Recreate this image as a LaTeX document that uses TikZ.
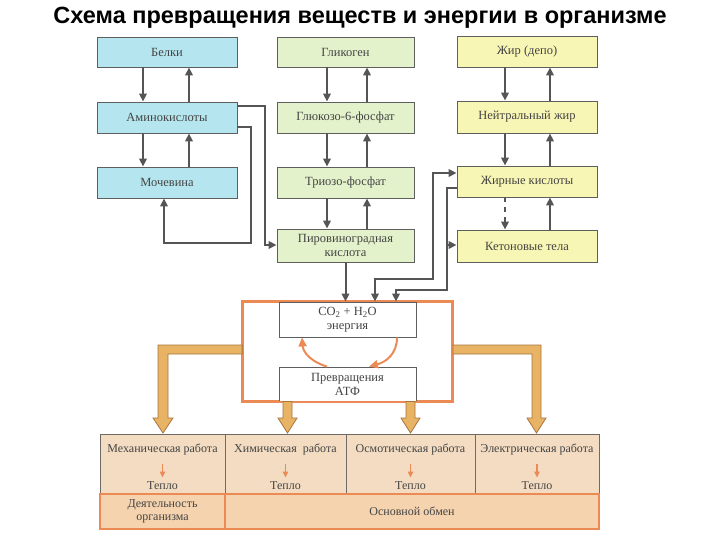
\documentclass[tikz,border=0pt]{standalone}
\usepackage{fontspec}
\setmainfont{Liberation Serif}
\newfontfamily\titlefont{Liberation Sans}
\usetikzlibrary{arrows.meta,calc}
\definecolor{cyanbox}{HTML}{B5E6EF}
\definecolor{greenbox}{HTML}{E4F2CB}
\definecolor{yellowbox}{HTML}{F8F6B4}
\definecolor{boxline}{HTML}{5E5E5E}
\definecolor{conn}{HTML}{555555}
\definecolor{txt}{HTML}{444444}
\definecolor{orangeline}{HTML}{EC8A55}
\definecolor{bigfill}{HTML}{E8B364}
\definecolor{bigline}{HTML}{A8743E}
\definecolor{cellfill}{HTML}{F3DCC1}
\definecolor{cellfill2}{HTML}{F5D3AE}
\definecolor{cellline}{HTML}{6E6A66}
\tikzset{
  sbox/.style={draw=boxline, line width=0.9pt, inner sep=0pt, minimum height=31pt,
    text=txt, font=\fontsize{12.5}{14}\selectfont, align=center},
  lbox/.style={sbox, fill=cyanbox, minimum width=140pt},
  mbox/.style={sbox, fill=greenbox, minimum width=137pt},
  rbox/.style={sbox, fill=yellowbox, minimum width=140pt},
  conn/.style={draw=conn, line width=2pt, -{Triangle[length=8pt,width=7.5pt]}},
  connb/.style={draw=conn, line width=2pt, {Triangle[length=8pt,width=7.5pt]}-{Triangle[length=8pt,width=7.5pt]}},
  wbox/.style={draw=boxline, line width=0.9pt, fill=white, inner sep=0pt, minimum width=137pt,
    text=txt, font=\fontsize{12.5}{14}\selectfont, align=center},
  cyc/.style={draw=orangeline, line width=2pt, -{Triangle[length=9pt,width=8pt]}},
  big/.style={fill=bigfill, draw=bigline, line width=0.8pt, line join=miter},
  cell/.style={draw=cellline, line width=0.9pt, fill=cellfill, inner sep=0pt, minimum height=60pt},
  cell2/.style={draw=orangeline, line width=1.8pt, fill=cellfill2, inner sep=0pt, minimum height=35pt,
    text=txt, font=\fontsize{12}{12.5}\selectfont, align=center},
  ctext/.style={text=txt, font=\fontsize{12}{14}\selectfont, inner sep=0pt},
  heat/.style={draw=orangeline, line width=1.4pt, -{Triangle[length=6pt,width=5.5pt]}}
}
\begin{document}
\begin{tikzpicture}[x=1pt,y=-1pt]
\useasboundingbox (0,0) rectangle (720,540);
% title
\node[font=\titlefont\bfseries\fontsize{23.5}{26}\selectfont, text=black] (title) at (360,18) {Схема превращения веществ и энергии в организме};

% left column
\node[lbox, minimum height=30pt] (belki) at (167,52) {Белки};
\node[lbox] (amino) at (167,117.5) {Аминокислоты};
\node[lbox] (moch) at (167,182.5) {Мочевина};
% middle column
\node[mbox, minimum height=30pt] (glik) at (345.5,52) {Гликоген};
\node[mbox] (g6f) at (345.5,117.5) {Глюкозо-6-фосфат};
\node[mbox] (trio) at (345.5,182.5) {Триозо-фосфат};
\node[mbox, minimum height=33pt, font=\fontsize{12.5}{14}\selectfont] (piro) at (345.5,245.5) {Пировиноградная\\кислота};
% right column
\node[rbox] (zhir) at (527,51.5) {Жир (депо)};
\node[rbox, minimum height=32pt] (neut) at (527,117) {Нейтральный жир};
\node[rbox] (zhk) at (527,181.5) {Жирные кислоты};
\node[rbox, minimum height=32pt] (keto) at (527,246) {Кетоновые тела};

% vertical arrows left
\draw[conn] ([xshift=-24pt]belki.south) -- ([xshift=-24pt]amino.north);
\draw[conn] ([xshift=22pt]amino.north) -- ([xshift=22pt]belki.south);
\draw[conn] ([xshift=-24pt]amino.south) -- ([xshift=-24pt]moch.north);
\draw[conn] ([xshift=22pt]moch.north) -- ([xshift=22pt]amino.south);
% vertical arrows middle
\draw[conn] ([xshift=-18.5pt]glik.south) -- ([xshift=-18.5pt]g6f.north);
\draw[conn] ([xshift=21.5pt]g6f.north) -- ([xshift=21.5pt]glik.south);
\draw[conn] ([xshift=-18.5pt]g6f.south) -- ([xshift=-18.5pt]trio.north);
\draw[conn] ([xshift=21.5pt]trio.north) -- ([xshift=21.5pt]g6f.south);
\draw[conn] ([xshift=-18.5pt]trio.south) -- ([xshift=-18.5pt]piro.north);
\draw[conn] ([xshift=21.5pt]piro.north) -- ([xshift=21.5pt]trio.south);
% vertical arrows right
\draw[conn] ([xshift=-22pt]zhir.south) -- ([xshift=-22pt]neut.north);
\draw[conn] ([xshift=23pt]neut.north) -- ([xshift=23pt]zhir.south);
\draw[conn] ([xshift=-22pt]neut.south) -- ([xshift=-22pt]zhk.north);
\draw[conn] ([xshift=23pt]zhk.north) -- ([xshift=23pt]neut.south);
\draw[conn, dash pattern=on 5pt off 5pt] ([xshift=-22pt]zhk.south) -- ([xshift=-22pt]keto.north);
\draw[conn] ([xshift=23pt]keto.north) -- ([xshift=23pt]zhk.south);

% amino acid routes
\draw[conn] (amino.east |- 0,106) -| (265,245) -- (piro.west |- 0,245);
\draw[conn] (amino.east |- 0,127) -| (251,243) -| (moch.south -| 164,0);

% central box
\node[draw=orangeline, line width=1.8pt, minimum width=209pt, minimum height=99pt, inner sep=0pt] (obox) at (347.5,351.5) {};
\node[wbox, minimum height=35pt] (co2) at (347.5,319.5) {CO\textsubscript{2} + H\textsubscript{2}O\\энергия};
\node[wbox, minimum height=34pt] (atp) at (347.5,384) {Превращения\\АТФ};
\draw[draw=orangeline, line width=1.8pt] (obox.north west) rectangle (obox.south east);

% routes into central box
\draw[conn] (piro.south) -- (piro.south |- co2.north);
\draw[connb] (co2.north -| 375,0) -- (375,279) -- (433,279) -- (433,173) -- (zhk.west |- 0,173);
\draw[conn] (zhk.west |- 0,188) -| (447,290) -| (co2.north -| 396,0);
\draw[conn] (447,245) -- (keto.west |- 0,245);

% cycle arrows
\draw[cyc] (co2.south -| 397,0) .. controls (397,354) and (386,362) .. (atp.north -| 369,0);
\draw[cyc] (atp.north -| 327,0) .. controls (311,362) and (303,352) .. (co2.south -| 302,0);

% bottom table
\node[cell, minimum width=125pt] (c1) at (162.5,464) {};
\node[cell, minimum width=121pt] (c2) at (285.5,464) {};
\node[cell, minimum width=129pt] (c3) at (410.5,464) {};
\node[cell, minimum width=124pt] (c4) at (537,464) {};
\node[cell2, minimum width=125pt] (d1) at (162.5,511.5) {Деятельность\\организма};
\node[cell2, minimum width=374pt] (d2) at (412,511.5) {Основной обмен};
\draw[draw=orangeline, line width=1.8pt] (c1.south west) -- (c4.south east);

\foreach \c/\t in {c1/Механическая работа, c2/Химическая\enspace работа, c3/Осмотическая работа, c4/Электрическая работа}{
  \node[ctext] (\c t) at ($(\c.north)+(0,16)$) {\t};
  \node[ctext] (\c h) at ($(\c.north)+(0,52)$) {Тепло};
  \draw[heat] ($(\c.north)+(0,30)$) -- ($(\c.north)+(0,44)$);
}

% big arrows
\draw[big] (obox.west |- 0,345) -- (158,345) -- (158,418) -- (153,418) -- (163,433) -- (173,418) -- (168,418) -- (168,354) -- (obox.west |- 0,354) -- cycle;
\draw[big] (atp.south -| 283,0) -- (283,418) -- (278,418) -- (287.5,433) -- (297,418) -- (292,418) -- (atp.south -| 292,0) -- cycle;
\draw[big] (atp.south -| 406,0) -- (406,418) -- (401,418) -- (410.5,433) -- (420,418) -- (415,418) -- (atp.south -| 415,0) -- cycle;
\draw[big] (obox.east |- 0,345) -- (541,345) -- (541,418) -- (546,418) -- (536.5,433) -- (527,418) -- (532,418) -- (532,354) -- (obox.east |- 0,354) -- cycle;
\end{tikzpicture}
\end{document}
